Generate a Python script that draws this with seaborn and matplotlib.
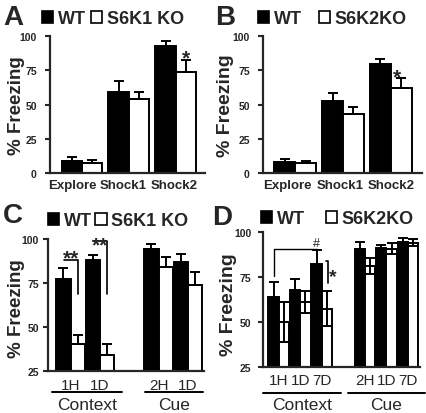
import matplotlib
matplotlib.use('Agg')
import matplotlib.pyplot as plt
import matplotlib.transforms as mtransforms
from matplotlib.patches import Patch
import seaborn as sns
import pandas as pd

sns.set_style('ticks')
plt.rcParams['font.family'] = ['Liberation Sans', 'DejaVu Sans']

# ---------------- data ----------------
# Panel A (S6K1 KO, training)
a_cats = ['Explore', 'Shock1', 'Shock2']
a_wt = [8.5, 59, 93]
a_wt_err = [3, 8, 3.5]
a_ko = [7, 54, 74]
a_ko_err = [2.7, 5, 8.5]
a_ko_name = 'S6K1 KO'

# Panel B (S6K2 KO, training)
b_cats = ['Explore', 'Shock1', 'Shock2']
b_wt = [7.8, 52.4, 79.4]
b_wt_err = [2.5, 6, 3.6]
b_ko = [7, 43, 62.4]
b_ko_err = [1.7, 5.5, 7.3]
b_ko_name = 'S6K2KO'

# Panel C (S6K1 KO, memory tests)
c_order = ['ctx_1H', 'ctx_1D', 'gap', 'cue_2H', 'cue_1D']
c_ticklabels = ['1H', '1D', '', '2H', '1D']
c_cats = ['ctx_1H', 'ctx_1D', 'cue_2H', 'cue_1D']
c_wt = [77, 88, 94.5, 87]
c_wt_err = [6.5, 3, 2.5, 4.7]
c_ko = [40.5, 34.3, 84, 73.7]
c_ko_err = [5, 6, 6, 7.5]
c_ko_name = 'S6K1 KO'

# Panel D (S6K2 KO, memory tests)
d_order = ['ctx_1H', 'ctx_1D', 'ctx_7D', 'gap', 'cue_2H', 'cue_1D', 'cue_7D']
d_ticklabels = ['1H', '1D', '7D', '', '2H', '1D', '7D']
d_cats = ['ctx_1H', 'ctx_1D', 'ctx_7D', 'cue_2H', 'cue_1D', 'cue_7D']
d_wt = [64, 68, 82, 90.7, 91, 94.5]
d_wt_err = [8.4, 5.8, 7.8, 3.8, 1.8, 2]
d_ko = [50, 61, 57.5, 81, 90.7, 94]
d_ko_err = [11, 6, 9.7, 4.3, 3, 2]
d_ko_name = 'S6K2KO'

W, H = 426, 414
fig = plt.figure(figsize=(W / 100, H / 100), dpi=100)


def px_axes(left, top, right, bottom):
    return fig.add_axes([left / W, 1 - bottom / H, (right - left) / W, (bottom - top) / H])


def draw_panel(ax, order, cats, wt, wt_err, ko, ko_err, ko_name, width, both_dirs=False):
    n = len(cats)
    df = pd.DataFrame({
        'cond': list(cats) * 2,
        'genotype': ['WT'] * n + [ko_name] * n,
        'freezing': list(wt) + list(ko),
    })
    sns.barplot(data=df, x='cond', y='freezing', hue='genotype', order=order,
                hue_order=['WT', ko_name], palette={'WT': 'black', ko_name: 'white'},
                edgecolor='black', linewidth=1.4, width=width, saturation=1,
                errorbar=None, legend=False, ax=ax, zorder=2)
    err = {}
    for c, e in zip(cats, wt_err):
        err[(c, 'WT')] = e
    for c, e in zip(cats, ko_err):
        err[(c, ko_name)] = e
    for patch in list(ax.patches):
        cx = patch.get_x() + patch.get_width() / 2
        pos = int(round(cx))
        cat = order[pos]
        g = 'WT' if cx < pos else ko_name
        if (cat, g) not in err:
            continue
        h = patch.get_height()
        e = err[(cat, g)]
        lo = e if both_dirs else 0
        ax.errorbar(cx, h, yerr=[[lo], [e]], fmt='none', ecolor='black',
                    elinewidth=1.4, capsize=3.3, capthick=1.4, zorder=3)
    for s in ['top', 'right']:
        ax.spines[s].set_visible(False)
    for s in ['left', 'bottom']:
        ax.spines[s].set_linewidth(1.6)
    ax.tick_params(axis='y', length=3.5, width=1.5, labelsize=7.5)
    ax.tick_params(axis='x', length=0)
    for lab in ax.get_yticklabels():
        lab.set_fontweight('bold')
    ax.set_xlabel('')


def legend(x_px, y_px, ko_name, colspace):
    handles = [Patch(facecolor='black', edgecolor='black', linewidth=1.2),
               Patch(facecolor='white', edgecolor='black', linewidth=1.2)]
    fig.legend(handles, ['WT', ko_name], loc='center left',
               bbox_to_anchor=(x_px / W, 1 - y_px / H), ncol=2, frameon=False,
               handlelength=0.62, handleheight=0.62, handletextpad=0.25,
               columnspacing=colspace, borderpad=0, borderaxespad=0,
               prop=dict(weight='bold', size=13))


def offset_xticklabels(ax, shifts_px):
    for lab, dx in zip(ax.get_xticklabels(), shifts_px):
        lab.set_transform(lab.get_transform() +
                          mtransforms.ScaledTranslation(dx / 100, 0, fig.dpi_scale_trans))


# ---------------- Panel A ----------------
axA = px_axes(50, 37, 205, 174)
draw_panel(axA, a_cats, a_cats, a_wt, a_wt_err, a_ko, a_ko_err, a_ko_name, 0.87)
axA.set_xlim(-0.68, 2.62)
axA.set_ylim(0, 100)
axA.set_yticks([0, 25, 50, 75, 100])
axA.tick_params(axis='y', pad=6)
axA.set_xticks(range(3))
axA.set_xticklabels(a_cats, fontsize=9.5, fontweight='bold')
axA.tick_params(axis='x', pad=4)
offset_xticklabels(axA, [-10, -6, -2])
axA.set_ylabel('% Freezing', fontsize=13.5, fontweight='bold')
axA.yaxis.set_label_coords(-0.16, 0.5)
axA.text(2.22, 80, '*', ha='center', va='baseline', fontsize=15, fontweight='bold')

# ---------------- Panel B ----------------
axB = px_axes(263, 37, 422, 174)
draw_panel(axB, b_cats, b_cats, b_wt, b_wt_err, b_ko, b_ko_err, b_ko_name, 0.87)
axB.set_xlim(-0.67, 2.65)
axB.set_ylim(0, 100)
axB.set_yticks([0, 25, 50, 75, 100])
axB.tick_params(axis='y', pad=6)
axB.set_xticks(range(3))
axB.set_xticklabels(b_cats, fontsize=9.5, fontweight='bold')
axB.tick_params(axis='x', pad=4)
offset_xticklabels(axB, [-8, -3, 0])
axB.set_ylabel('% Freezing', fontsize=14, fontweight='bold')
axB.yaxis.set_label_coords(-0.18, 0.5)
axB.text(2.12, 66.4, '*', ha='center', va='baseline', fontsize=15, fontweight='bold')

# ---------------- Panel C ----------------
axC = px_axes(48, 240, 204, 372)
draw_panel(axC, c_order, c_cats, c_wt, c_wt_err, c_ko, c_ko_err, c_ko_name, 0.97)
axC.set_xlim(-0.77, 4.55)
axC.set_ylim(25, 100)
axC.set_yticks([25, 50, 75, 100])
axC.tick_params(axis='y', pad=3)
axC.set_xticks([i for i, t in enumerate(c_ticklabels) if t])
axC.set_xticklabels([t for t in c_ticklabels if t], fontsize=11)
axC.tick_params(axis='x', pad=5)
axC.set_ylabel('% Freezing', fontsize=13.5, fontweight='bold')
axC.yaxis.set_label_coords(-0.15, 0.48)
trC = mtransforms.blended_transform_factory(axC.transData, axC.transAxes)
for (x0, x1, name) in [(-0.64, 1.75, 'Context'), (2.54, 4.51, 'Cue')]:
    axC.plot([x0, x1], [-0.16, -0.16], color='black', lw=1.4, transform=trC, clip_on=False)
    axC.text((x0 + x1) / 2, -0.2, name, transform=trC, ha='center', va='top', fontsize=12.5)
# significance brackets
for pos, ytop, ystar in [(0, 88, 86.4), (1, 98.7, 93.5)]:
    axC.plot([pos - 0.24, pos + 0.24, pos + 0.24], [ytop, ytop, 68.7], color='black',
             lw=1.2, clip_on=False)
    axC.text(pos, ystar, '**', ha='center', va='baseline', fontsize=15,
             fontweight='bold', clip_on=False)

# ---------------- Panel D ----------------
axD = px_axes(263, 233, 420, 368)
draw_panel(axD, d_order, d_cats, d_wt, d_wt_err, d_ko, d_ko_err, d_ko_name, 0.96,
           both_dirs=True)
axD.set_xlim(-0.73, 6.56)
axD.set_ylim(25, 100)
axD.set_yticks([25, 50, 75, 100])
axD.tick_params(axis='y', pad=5)
axD.set_xticks([i for i, t in enumerate(d_ticklabels) if t])
axD.set_xticklabels([t for t in d_ticklabels if t], fontsize=11)
axD.tick_params(axis='x', pad=4)
axD.set_ylabel('% Freezing', fontsize=14, fontweight='bold')
axD.yaxis.set_label_coords(-0.165, 0.47)
trD = mtransforms.blended_transform_factory(axD.transData, axD.transAxes)
for (x0, x1, name) in [(-0.73, 2.89, 'Context'), (3.22, 6.79, 'Cue')]:
    axD.plot([x0, x1], [-0.195, -0.195], color='black', lw=1.4, transform=trD, clip_on=False)
    axD.text((x0 + x1) / 2, -0.22, name, transform=trD, ha='center', va='top', fontsize=12.5)
axD.plot([-0.24, -0.24, 1.76], [75.7, 90.6, 90.6], color='black', lw=1.0, clip_on=False)
axD.text(1.76, 90.8, '#', ha='center', va='bottom', fontsize=9)
axD.plot([2.2, 2.28, 2.28], [83.9, 83.9, 71.5], color='black', lw=1.2, clip_on=False)
axD.text(2.52, 72.8, '*', ha='center', va='baseline', fontsize=14, fontweight='bold')

# ---------------- legends & panel letters ----------------
legend(42, 20, a_ko_name, 0.3)
legend(258, 20, b_ko_name, 0.95)
legend(48, 222, c_ko_name, 0.2)
legend(261, 220, d_ko_name, 1.15)

for letter, x, y in [('A', 3, 25), ('B', 215, 25), ('C', 3, 223), ('D', 212, 225)]:
    fig.text(x / W, 1 - y / H, letter, fontsize=20, fontweight='bold', ha='left', va='baseline')

fig.savefig('out.png', dpi=100)
